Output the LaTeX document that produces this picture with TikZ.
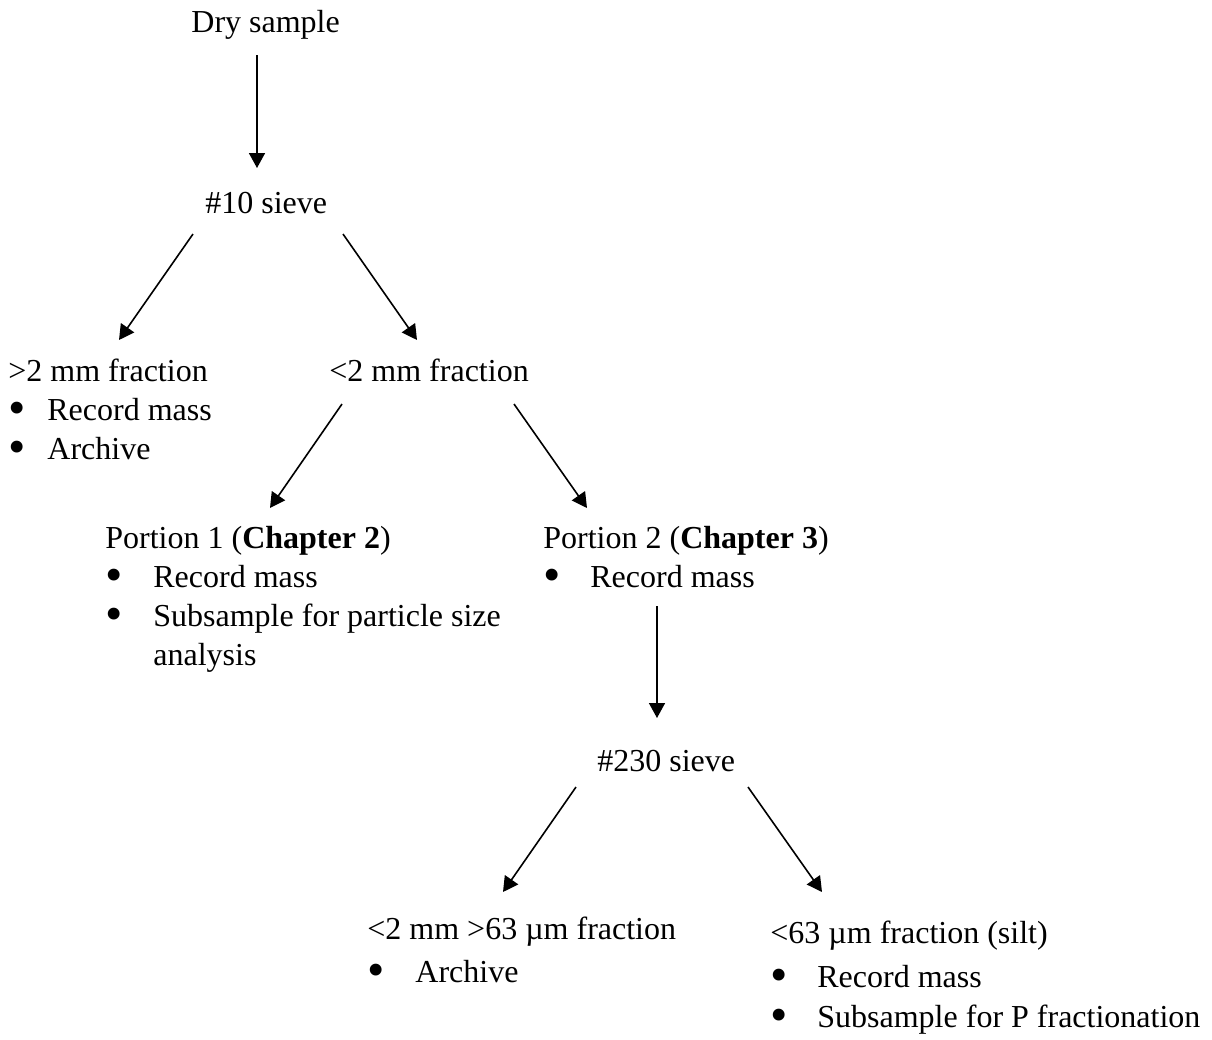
\documentclass[tikz,border=0pt]{standalone}
\usepackage{fontspec}
\setmainfont{Liberation Serif}
\usepackage{graphicx}
\usepackage{tikz}
\usetikzlibrary{arrows.meta,calc}

\tikzset{
  txt/.style={inner sep=0pt,anchor=base west,font=\fontsize{16}{19.5}\selectfont},
  arr/.style={line width=0.8pt,-{Triangle[length=7.5pt,width=8pt]}}
}
\newcommand{\bigbul}{\smash{\raisebox{-2.2pt}{\scalebox{1.55}{\textbullet}}}}
\newcommand{\bitem}[2]{\makebox[#1][l]{\bigbul}#2}
\newcommand{\blist}[1]{\begin{tabular}[t]{@{}l@{}}#1\end{tabular}}

\begin{document}
\begin{tikzpicture}[x=0.5pt,y=-0.5pt]
\useasboundingbox (0,0) rectangle (1212,1040);
% sieving steps
\node[txt] (dry) at (191,32) {Dry sample};
\node[txt] (sv10) at (205,213) {\#10 sieve};
\node[txt] (gt2) at (8,381) {\blist{>2 mm fraction\\ \bitem{19.5pt}{Record mass}\\ \bitem{19.5pt}{Archive}}};
\node[txt] (lt2) at (329,381) {<2 mm fraction};
\node[txt] (p1) at (105,548) {\blist{Portion 1 (\textbf{Chapter 2})\\
  \bitem{24pt}{Record mass}\\ \bitem{24pt}{Subsample for particle size}\\ \hspace*{24pt}analysis}};
\node[txt] (p2) at (543,548) {\blist{Portion 2 (\textbf{Chapter 3})\\ \bitem{23.5pt}{Record mass}}};
\node[txt] (sv230) at (597,771) {\#230 sieve};
\node[txt] (f63) at (367,939) {\blist{<2 mm >63 µm fraction\\[2pt] \bitem{24pt}{Archive}}};
\node[txt] (silt) at (770,943) {\blist{<63 µm fraction (silt)\\[2.5pt]
  \bitem{23.5pt}{Record mass}\\[0.5pt] \bitem{23.5pt}{Subsample for P fractionation}}};
% arrows
\draw[arr] ($(dry.base west)+(66,23)$) -- ($(sv10.base west)+(52,-45)$);
\draw[arr] ($(sv10.base west)+(-12,21)$) -- ($(gt2.base west)+(111,-41)$);
\draw[arr] ($(sv10.base west)+(138,21)$) -- ($(lt2.base west)+(88,-41)$);
\draw[arr] ($(lt2.base west)+(13,23)$) -- ($(p1.base west)+(165,-40)$);
\draw[arr] ($(lt2.base west)+(185,23)$) -- ($(p2.base west)+(44,-40)$);
\draw[arr] ($(p2.base west)+(114,58)$) -- ($(sv230.base west)+(60,-53)$);
\draw[arr] ($(sv230.base west)+(-21,16)$) -- ($(f63.base west)+(136,-47)$);
\draw[arr] ($(sv230.base west)+(151,16)$) -- ($(silt.base west)+(52,-51)$);
\end{tikzpicture}
\end{document}
